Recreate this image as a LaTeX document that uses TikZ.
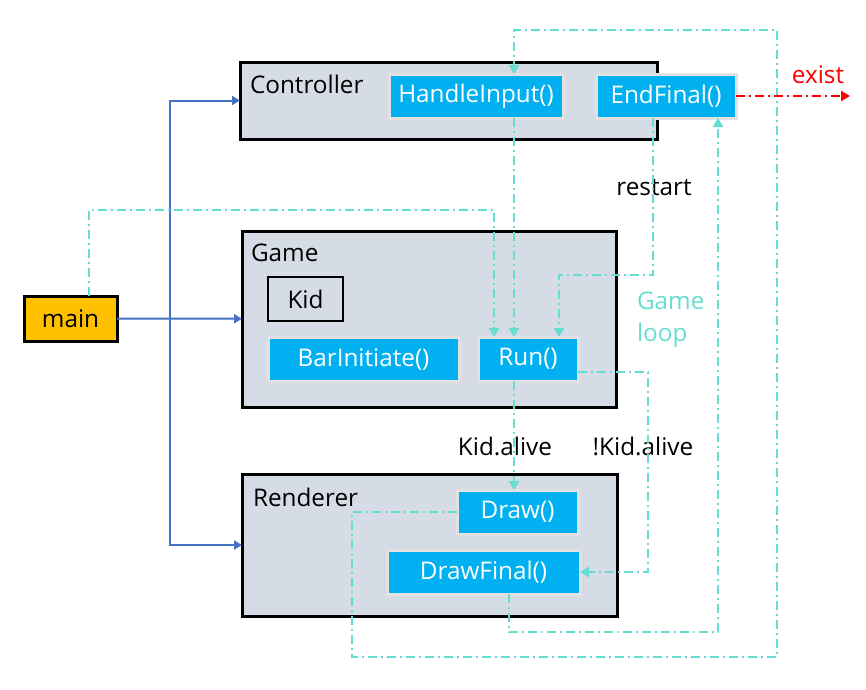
\documentclass[tikz,border=0pt]{standalone}
\usepackage{fontspec}
\setmainfont{Open Sans}
\usetikzlibrary{arrows.meta,positioning}
\definecolor{boxblue}{HTML}{00B0F0}
\definecolor{boxrim}{HTML}{E2E2E2}
\definecolor{panel}{HTML}{D6DCE5}
\definecolor{busblue}{HTML}{4472C4}
\definecolor{loopcyan}{RGB}{102,221,209}
\definecolor{mainfill}{HTML}{FFC000}

\begin{document}
\begin{tikzpicture}[x=1pt,y=-1pt,
    font=\fontsize{24.3}{32}\selectfont,
    every node/.style={inner sep=0pt,outer sep=0pt},
    module/.style={draw=black,line width=3pt,fill=panel},
    method/.style={draw=boxrim,line width=3pt,fill=boxblue,text=white,minimum height=44pt},
    bus/.style={busblue,line width=2pt,-{Triangle[width=9pt,length=8pt]}},
    loop/.style={loopcyan,line width=2.2pt,dash pattern=on 9pt off 4pt on 2pt off 4pt,
                 -{Triangle[width=10pt,length=9pt]}},
    tag/.style={anchor=west}]
  \useasboundingbox (0,0) rectangle (866,689);
  % modules
  \node[module,minimum width=417pt,minimum height=77pt] (ctrl) at (448.5,100.5) {};
  \node[module,minimum width=374pt,minimum height=176pt] (game) at (429,319) {};
  \node[module,minimum width=375pt,minimum height=142pt] (rend) at (429.5,545) {};
  \node[tag] (ctrltag) at (250,84) {Controller};
  \node[tag] (gametag) at (251,253) {Game};
  \node[tag] (rendtag) at (253,497) {Renderer};
  \node[draw=black,line width=3pt,fill=mainfill,minimum width=93pt,minimum height=45pt] (main) at (70.5,318.5) {main};
  % methods
  \node[method,minimum width=174pt] (input) at (476,96) {HandleInput()};
  \node[method,minimum width=140pt] (endf) at (666,96) {EndFinal()};
  \node[draw=black,line width=2.5pt,minimum width=75pt,minimum height=44pt] (kid) at (305.5,299) {Kid};
  \node[method,minimum width=191pt] (bar) at (363.5,359) {BarInitiate()};
  \node[method,minimum width=100pt] (run) at (528,359) {Run()};
  \node[method,minimum width=121pt] (draw) at (517.5,512) {Draw()};
  \node[method,minimum width=193pt] (drawf) at (483.5,572) {DrawFinal()};
  % labels
  \node (restart) at (654,188) {restart};
  \node (alive) at (505,446) {Kid.alive};
  \node (dead) at (643,446) {!Kid.alive};
  \node[tag,text=loopcyan,align=left] (gloop) at (637,320) {Game\\loop};
  \node[text=red] (exist) at (818,75) {exist};
  \coordinate (out) at (850,96);
  \coordinate (split) at (170,319);
  % main to modules
  \draw[bus] (main) -- (game);
  \draw[bus,{Triangle[width=9pt,length=8pt]}-{Triangle[width=9pt,length=8pt]}] (ctrl.west) -| (split) |- (rend.west);
  % game loop
  \draw[loop] ([xshift=18.5pt]main.north) -- ++(0,-86) -| ([xshift=-34pt]run.north);
  \draw[loop] ([xshift=38pt]input.south) -- ([xshift=-14pt]run.north);
  \draw[loop] ([xshift=-13pt]endf.south) -- ++(0,157) -| ([xshift=31pt]run.north);
  \draw[loop] ([yshift=-13pt]run.east) -- ++(70,0) |- (drawf.east);
  \draw[loop] ([xshift=-14pt]run.south) -- ([xshift=-14pt]run.south |- draw.north);
  \draw[loop] ([xshift=25.5pt]drawf.south) -- ++(0,38) -| ([xshift=52pt]endf.south);
  \draw[loop] (draw.west) -- ++(-105,0) -- ++(0,145) -- ++(425,0) -- ++(0,-627) -| ([xshift=38pt]input.north);
  \draw[loop,red] (endf.east) -- (out);
\end{tikzpicture}
\end{document}
